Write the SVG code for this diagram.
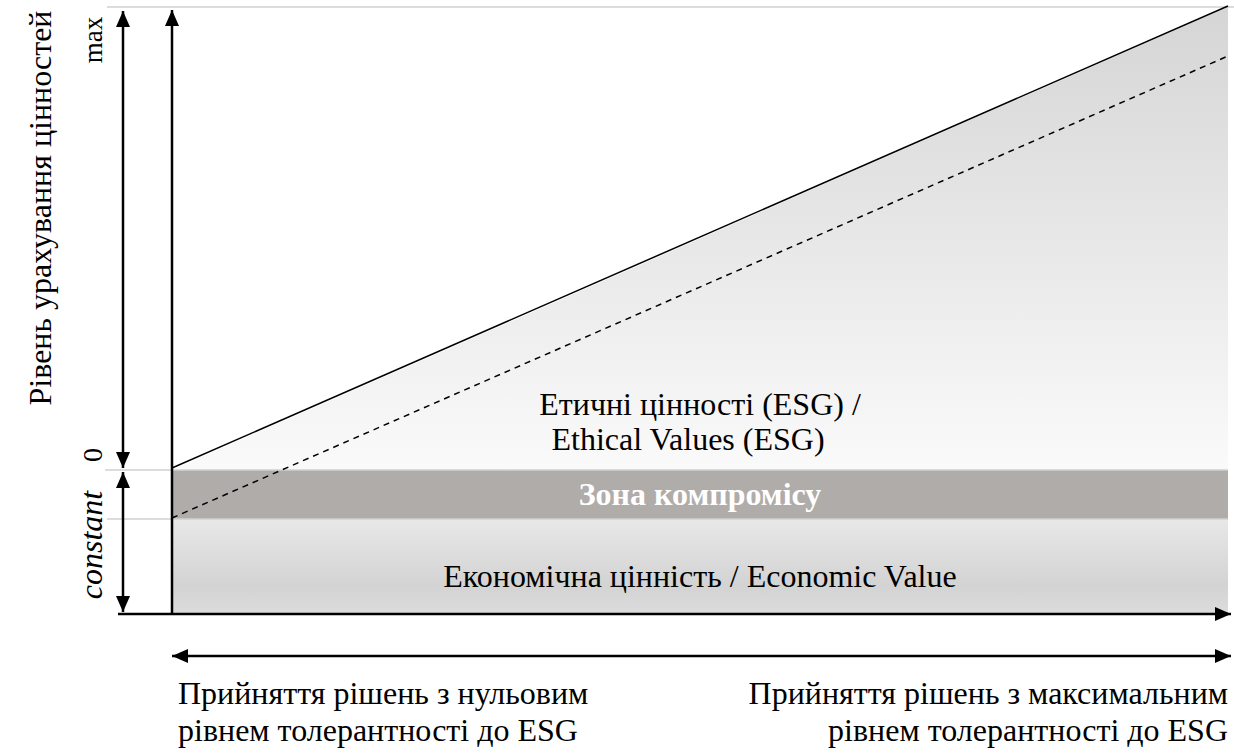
<svg xmlns="http://www.w3.org/2000/svg" width="1234" height="755" viewBox="0 0 1234 755">
<style>
text{font-family:'Liberation Serif','Times New Roman',serif;font-size:32px;fill:#000}
.ax{stroke:#000;stroke-width:2.5;fill:none}
.gl{stroke:#d0d0d0;stroke-width:1.5;fill:none}
</style>
<defs>
<marker id="ah" viewBox="0 0 16 14" refX="16" refY="7" markerWidth="16" markerHeight="14" markerUnits="userSpaceOnUse" orient="auto-start-reverse">
<path d="M0,0 L16,7 L0,14 Z" fill="#000"/>
</marker>
<linearGradient id="gTri" x1="0" y1="7" x2="0" y2="470" gradientUnits="userSpaceOnUse">
<stop offset="0" stop-color="#d5d5d5"/>
<stop offset="1" stop-color="#fafafa"/>
</linearGradient>
<linearGradient id="gEco" x1="0" y1="519" x2="0" y2="614" gradientUnits="userSpaceOnUse">
<stop offset="0" stop-color="#e8e8e8"/>
<stop offset="0.7" stop-color="#d3d3d3"/>
<stop offset="1" stop-color="#dcdcdc"/>
</linearGradient>
</defs>
<rect width="1234" height="755" fill="#fff"/>
<g id="ethical-zone">
<polygon points="172,470 1228,7 1228,470" fill="url(#gTri)"/>
<text x="700" y="415" text-anchor="middle">Етичні цінності (ESG) /</text>
<text x="688" y="450" text-anchor="middle">Ethical Values (ESG)</text>
</g>
<g id="compromise-zone">
<rect x="172" y="470" width="1056" height="49" fill="#b0acaa"/>
<text x="700" y="505" text-anchor="middle" font-weight="bold" style="fill:#fff;font-weight:bold">Зона компромісу</text>
</g>
<g id="economic-zone">
<rect x="172" y="519" width="1056" height="95" fill="url(#gEco)"/>
<text x="700" y="587" text-anchor="middle">Економічна цінність / Economic Value</text>
</g>
<g id="guides">
<line class="gl" x1="107" y1="7" x2="1234" y2="7"/>
<line class="gl" x1="105" y1="470" x2="1228" y2="470"/>
<line class="gl" x1="107" y1="519" x2="1228" y2="519"/>
</g>
<g id="connectors">
<line x1="172" y1="468" x2="1228" y2="6" stroke="#000" stroke-width="1.5"/>
<line x1="172" y1="518" x2="1228" y2="56" stroke="#000" stroke-width="1.5" stroke-dasharray="6,5"/>
<line class="ax" x1="172" y1="614" x2="172" y2="10" marker-end="url(#ah)"/>
<line class="ax" x1="118" y1="614" x2="1231" y2="614" marker-end="url(#ah)"/>
<line class="ax" x1="123" y1="11" x2="123" y2="468" marker-start="url(#ah)" marker-end="url(#ah)"/>
<line class="ax" x1="123" y1="472" x2="123" y2="612" marker-start="url(#ah)" marker-end="url(#ah)"/>
<line class="ax" x1="172" y1="656" x2="1231" y2="656" marker-start="url(#ah)" marker-end="url(#ah)"/>
</g>
<g id="axis-labels">
<text transform="translate(51,208) rotate(-90)" text-anchor="middle">Рівень урахування цінностей</text>
<text transform="translate(102,40) rotate(-90)" text-anchor="middle" style="font-size:27px">max</text>
<text transform="translate(102,455) rotate(-90)" text-anchor="middle" style="font-size:28px">0</text>
<text transform="translate(102,545) rotate(-90)" text-anchor="middle" font-style="italic" style="font-style:italic">constant</text>
</g>
<g id="bottom-left-label">
<text x="178" y="704">Прийняття рішень з нульовим</text>
<text x="178" y="741">рівнем толерантності до ESG</text>
</g>
<g id="bottom-right-label">
<text x="1228" y="704" text-anchor="end">Прийняття рішень з максимальним</text>
<text x="1228" y="741" text-anchor="end">рівнем толерантності до ESG</text>
</g>
</svg>
